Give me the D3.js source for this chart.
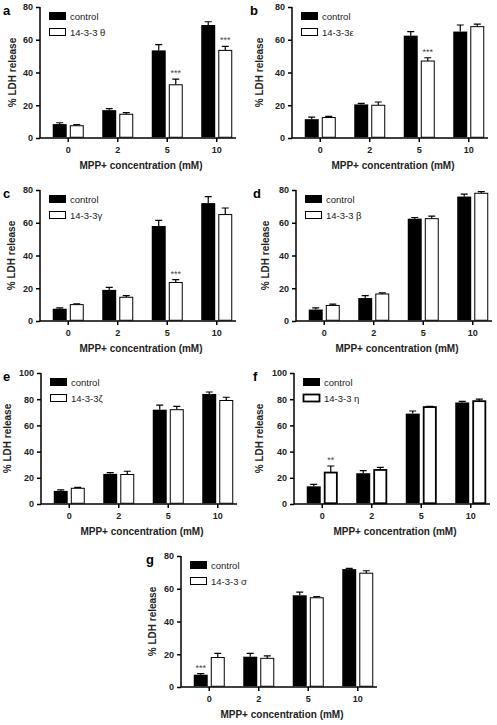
<!DOCTYPE html>
<html>
<head>
<meta charset="utf-8">
<script src="https://cdn.jsdelivr.net/npm/d3@7"></script>
<style>
  html, body { margin: 0; padding: 0; background: #fff; }
  svg { display: block; }
</style>
</head>
<body>
<svg id="chart" width="497" height="725"></svg>
<script>
// ---------- DATA ----------
const categories = ["0", "2", "5", "10"];
const panelLetters = ["a", "b", "c", "d", "e", "f", "g"];
const isoformLabels = ["14-3-3 θ", "14-3-3ε", "14-3-3γ", "14-3-3 β", "14-3-3ζ", "14-3-3 η", "14-3-3 σ"];
const controlMeans = [
  [8.5, 17, 53.5, 69],
  [11.5, 20.5, 62.5, 65],
  [7.5, 19, 58, 72],
  [7, 14, 62.5, 76],
  [10, 23, 72, 84],
  [13.5, 23.5, 69, 77.5],
  [7.5, 18.5, 56, 72]
];
const controlErrors = [
  [0.8, 1, 3.5, 2],
  [1.2, 0.6, 2.5, 4],
  [0.5, 1.5, 3.5, 4],
  [1, 1.5, 0.7, 1.5],
  [0.8, 1, 3.5, 1.5],
  [1.5, 2, 2, 0.8],
  [0.7, 2, 2, 0.5]
];
const isoformMeans = [
  [7.5, 14.5, 32.5, 53.5],
  [12.5, 20, 47, 68],
  [10, 14.5, 23.5, 65],
  [9.5, 16.5, 62.5, 78],
  [12, 22.5, 72, 79],
  [24, 26, 74, 78.5],
  [18, 17.5, 54.5, 69.5]
];
const isoformErrors = [
  [0.7, 1, 3.5, 2.5],
  [0.7, 2, 2, 1.5],
  [0.5, 1, 1.8, 4],
  [0.8, 0.7, 1.5, 1],
  [0.7, 2.5, 2.5, 2.5],
  [5, 2, 0.5, 1.5],
  [2.5, 1.5, 0.7, 1.5]
];
const yMaxValues = [80, 80, 80, 80, 100, 100, 80];
const yTickValues80 = [0, 20, 40, 60, 80];
const yTickValues100 = [0, 20, 40, 60, 80, 100];
const seriesNames = ["control", "isoform"];
const legendControl = "control";
const yAxisTitle = "% LDH release";
const xAxisTitle = "MPP+ concentration (mM)";
// significance marks: panel index, category, series, text
const sigPanel = [0, 0, 1, 2, 5, 6];
const sigCategory = ["5", "10", "5", "5", "0", "0"];
const sigSeries = ["isoform", "isoform", "isoform", "isoform", "isoform", "control"];
const sigText = ["***", "***", "***", "***", "**", "***"];

// ---------- LAYOUT ----------
const layout = [
  { ax: 40,  zero: 138, top: 7,   lx: 3,   titleOff: 28, white: 1 },
  { ax: 292, zero: 138, top: 7,   lx: 250, titleOff: 33, white: 1 },
  { ax: 40,  zero: 321, top: 190, lx: 3,   titleOff: 29, white: 1 },
  { ax: 296, zero: 321, top: 190, lx: 253, titleOff: 31, white: 1 },
  { ax: 41,  zero: 504, top: 373, lx: 3,   titleOff: 34, white: 1 },
  { ax: 294, zero: 504, top: 373, lx: 253, titleOff: 35, white: 1.8 },
  { ax: 181, zero: 687, top: 556, lx: 146, titleOff: 29, white: 1 }
];

const svg = d3.select("#chart");
const font = "'Liberation Sans', Arial, Helvetica, sans-serif";

layout.forEach((L, p) => {
  const g = svg.append("g");
  const yMax = yMaxValues[p];
  const y = d3.scaleLinear().domain([0, yMax]).range([L.zero, L.top]);
  const x = d3.scaleBand().domain(categories).range([L.ax + 3.5, L.ax + 201.5]);
  const xi = d3.scaleBand().domain(seriesNames).range([x.bandwidth() / 2 - 15.5, x.bandwidth() / 2 + 15.5]).paddingInner(0.18);
  const ticks = yMax === 100 ? yTickValues100 : yTickValues80;

  // y axis
  const yAxis = d3.axisLeft(y).tickValues(ticks).tickSize(4).tickPadding(3).tickFormat(d3.format("d"));
  const ya = g.append("g").attr("transform", `translate(${L.ax},0)`).call(yAxis);
  ya.select(".domain").attr("d", `M0,${L.top}V${L.zero}`).attr("stroke-width", 1.5);
  ya.selectAll(".tick line").attr("stroke-width", 1.5);
  ya.selectAll("text").attr("font-family", font).attr("font-size", 9).attr("font-weight", "bold").attr("fill", "#222");

  // x axis
  const xAxis = d3.axisBottom(x).tickSize(4).tickPadding(5);
  const xa = g.append("g").attr("transform", `translate(0,${L.zero})`).call(xAxis);
  xa.select(".domain").attr("d", `M${L.ax},0H${L.ax + 196}`).attr("stroke-width", 1.5);
  xa.selectAll(".tick line").attr("stroke-width", 1.5);
  xa.selectAll("text").attr("font-family", font).attr("font-size", 9).attr("font-weight", "bold").attr("fill", "#222");

  // bars
  const rows = categories.map((c, i) => ({
    cat: c,
    vals: [
      { s: "control", m: controlMeans[p][i], e: controlErrors[p][i] },
      { s: "isoform", m: isoformMeans[p][i], e: isoformErrors[p][i] }
    ]
  }));
  const grp = g.selectAll(".grp").data(rows).enter().append("g")
    .attr("transform", d => `translate(${x(d.cat)},0)`);
  const bw = xi.bandwidth();
  // error bars (behind bars)
  grp.selectAll(".err").data(d => d.vals).enter().append("path")
    .attr("d", d => {
      const cx = xi(d.s) + bw / 2;
      return `M${cx},${y(d.m)}V${y(d.m + d.e)}M${cx - 3.5},${y(d.m + d.e)}H${cx + 3.5}`;
    })
    .attr("stroke", "#000").attr("stroke-width", 1.2).attr("fill", "none");
  grp.selectAll(".bar").data(d => d.vals).enter().append("rect")
    .attr("x", d => xi(d.s) + (d.s === "isoform" ? L.white / 2 : 0))
    .attr("width", d => bw - (d.s === "isoform" ? L.white : 0))
    .attr("y", d => y(d.m))
    .attr("height", d => y(0) - y(d.m) - 0.75)
    .attr("fill", d => d.s === "control" ? "#000" : "#fff")
    .attr("stroke", "#000")
    .attr("stroke-width", d => d.s === "control" ? 0 : L.white);

  // significance marks
  sigPanel.forEach((sp, k) => {
    if (sp !== p) return;
    const i = categories.indexOf(sigCategory[k]);
    const s = sigSeries[k];
    const m = s === "control" ? controlMeans[p][i] : isoformMeans[p][i];
    const e = s === "control" ? controlErrors[p][i] : isoformErrors[p][i];
    g.append("text")
      .attr("x", x(sigCategory[k]) + xi(s) + bw / 2)
      .attr("y", y(m + e) - 3)
      .attr("text-anchor", "middle")
      .attr("font-family", font).attr("font-size", 9).attr("fill", "#444")
      .text(sigText[k]);
  });

  // legend
  const lg = g.append("g").attr("transform", `translate(${L.ax + 9},${L.top + 5})`);
  const legendItems = [legendControl, isoformLabels[p]];
  legendItems.forEach((t, k) => {
    lg.append("rect")
      .attr("x", k === 0 ? 0 : 0.5).attr("y", k * 16 + (k === 0 ? 0 : 0.5))
      .attr("width", k === 0 ? 17 : 16).attr("height", k === 0 ? 8 : 7)
      .attr("fill", k === 0 ? "#000" : "#fff").attr("stroke", "#000")
      .attr("stroke-width", k === 0 ? 0 : L.white);
    lg.append("text")
      .attr("x", 21).attr("y", k * 16 + 7.5)
      .attr("font-family", font).attr("font-size", 9.5).attr("fill", "#222")
      .text(t);
  });

  // axis titles
  g.append("text")
    .attr("transform", `translate(${L.ax - L.titleOff},${(L.top + L.zero) / 2}) rotate(-90)`)
    .attr("text-anchor", "middle").attr("dy", "0.35em")
    .attr("font-family", font).attr("font-size", 10).attr("font-weight", "bold").attr("fill", "#222")
    .text(yAxisTitle);
  g.append("text")
    .attr("x", L.ax + 101).attr("y", L.zero + 31)
    .attr("text-anchor", "middle")
    .attr("font-family", font).attr("font-size", 10).attr("font-weight", "bold").attr("fill", "#222")
    .text(xAxisTitle);

  // panel letter
  g.append("text")
    .attr("x", L.lx).attr("y", L.top + 8)
    .attr("font-family", font).attr("font-size", 13).attr("font-weight", "bold").attr("fill", "#000")
    .text(panelLetters[p]);
});
</script>
</body>
</html>
